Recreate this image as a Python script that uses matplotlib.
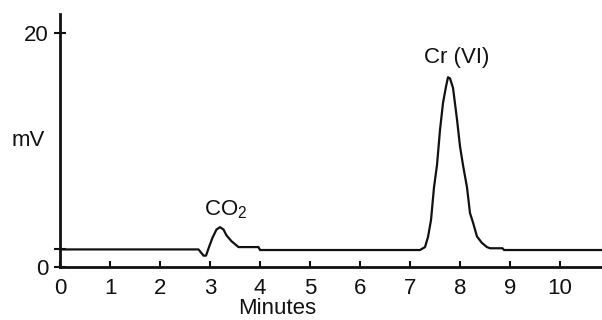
import numpy as np
import matplotlib.pyplot as plt

plt.rcParams['font.family'] = ['Liberation Sans', 'DejaVu Sans']
plt.rcParams['mathtext.fontset'] = 'custom'
plt.rcParams['mathtext.rm'] = 'Liberation Sans'

# ----------------------------
# Chromatogram trace
# ----------------------------
t_min = [0.0, 2.77, 2.87, 2.92, 2.98, 3.05, 3.13, 3.20, 3.27, 3.33, 3.43, 3.57,
         3.97, 4.0, 7.2, 7.3, 7.36, 7.42, 7.48, 7.54, 7.6, 7.66, 7.72, 7.76,
         7.8, 7.86, 7.94, 8.0, 8.06, 8.14, 8.2, 8.26, 8.34, 8.44, 8.54, 8.6,
         8.85, 8.88, 10.84]
mv = [1.5, 1.5, 0.97, 0.97, 1.7, 2.5, 3.2, 3.4, 3.2, 2.7, 2.2, 1.7,
      1.7, 1.45, 1.45, 1.7, 2.56, 4.0, 6.8, 8.7, 11.7, 14.0, 15.4, 16.2,
      16.1, 15.3, 12.6, 10.3, 8.7, 6.8, 4.6, 3.8, 2.6, 2.05, 1.7, 1.6,
      1.6, 1.45, 1.45]

x_ticks = list(range(0, 11))
y_ticks = [0, 1.5, 20]
y_ticklabels = ['0', '', '20']

peak_labels = ['CO$_\\mathregular{2}$', 'Cr (VI)']
peak_pos = [(3.32, 4.9), (7.94, 17.9)]

fig = plt.figure(figsize=(6.02, 3.2), dpi=100)
ax = fig.add_axes([60 / 602, 53 / 320, 542 / 602, 253 / 320])

ax.plot(t_min, mv, color='#111111', lw=1.6)

ax.set_xlim(0, 10.84)
ax.set_ylim(0, 21.6)

for s in ['top', 'right']:
    ax.spines[s].set_visible(False)
for s in ['left', 'bottom']:
    ax.spines[s].set_linewidth(2)
    ax.spines[s].set_color('#111111')

ax.set_xticks(x_ticks)
ax.set_xticklabels([str(v) for v in x_ticks])
ax.set_yticks(y_ticks)
ax.set_yticklabels(y_ticklabels)
ax.tick_params(axis='x', direction='in', length=4, width=1.5, pad=8,
               labelsize=16, colors='#111111')
ax.tick_params(axis='y', direction='inout', length=9, width=1.5, pad=4,
               labelsize=16, colors='#111111')
for lab in ax.get_xticklabels():
    lab.set_x(lab.get_position()[0])

# axis titles sit where the reference puts them
fig.text(277 / 602, 1 - 309 / 320, 'Minutes', fontsize=16, color='#111111',
         ha='center', va='center')
fig.text(28 / 602, 1 - 140 / 320, 'mV', fontsize=16, color='#111111',
         ha='center', va='center')

for lab, (tx, ty) in zip(peak_labels, peak_pos):
    ax.text(tx, ty, lab, fontsize=16, color='#111111', ha='center', va='center')

fig.savefig('out.png', dpi=100)
